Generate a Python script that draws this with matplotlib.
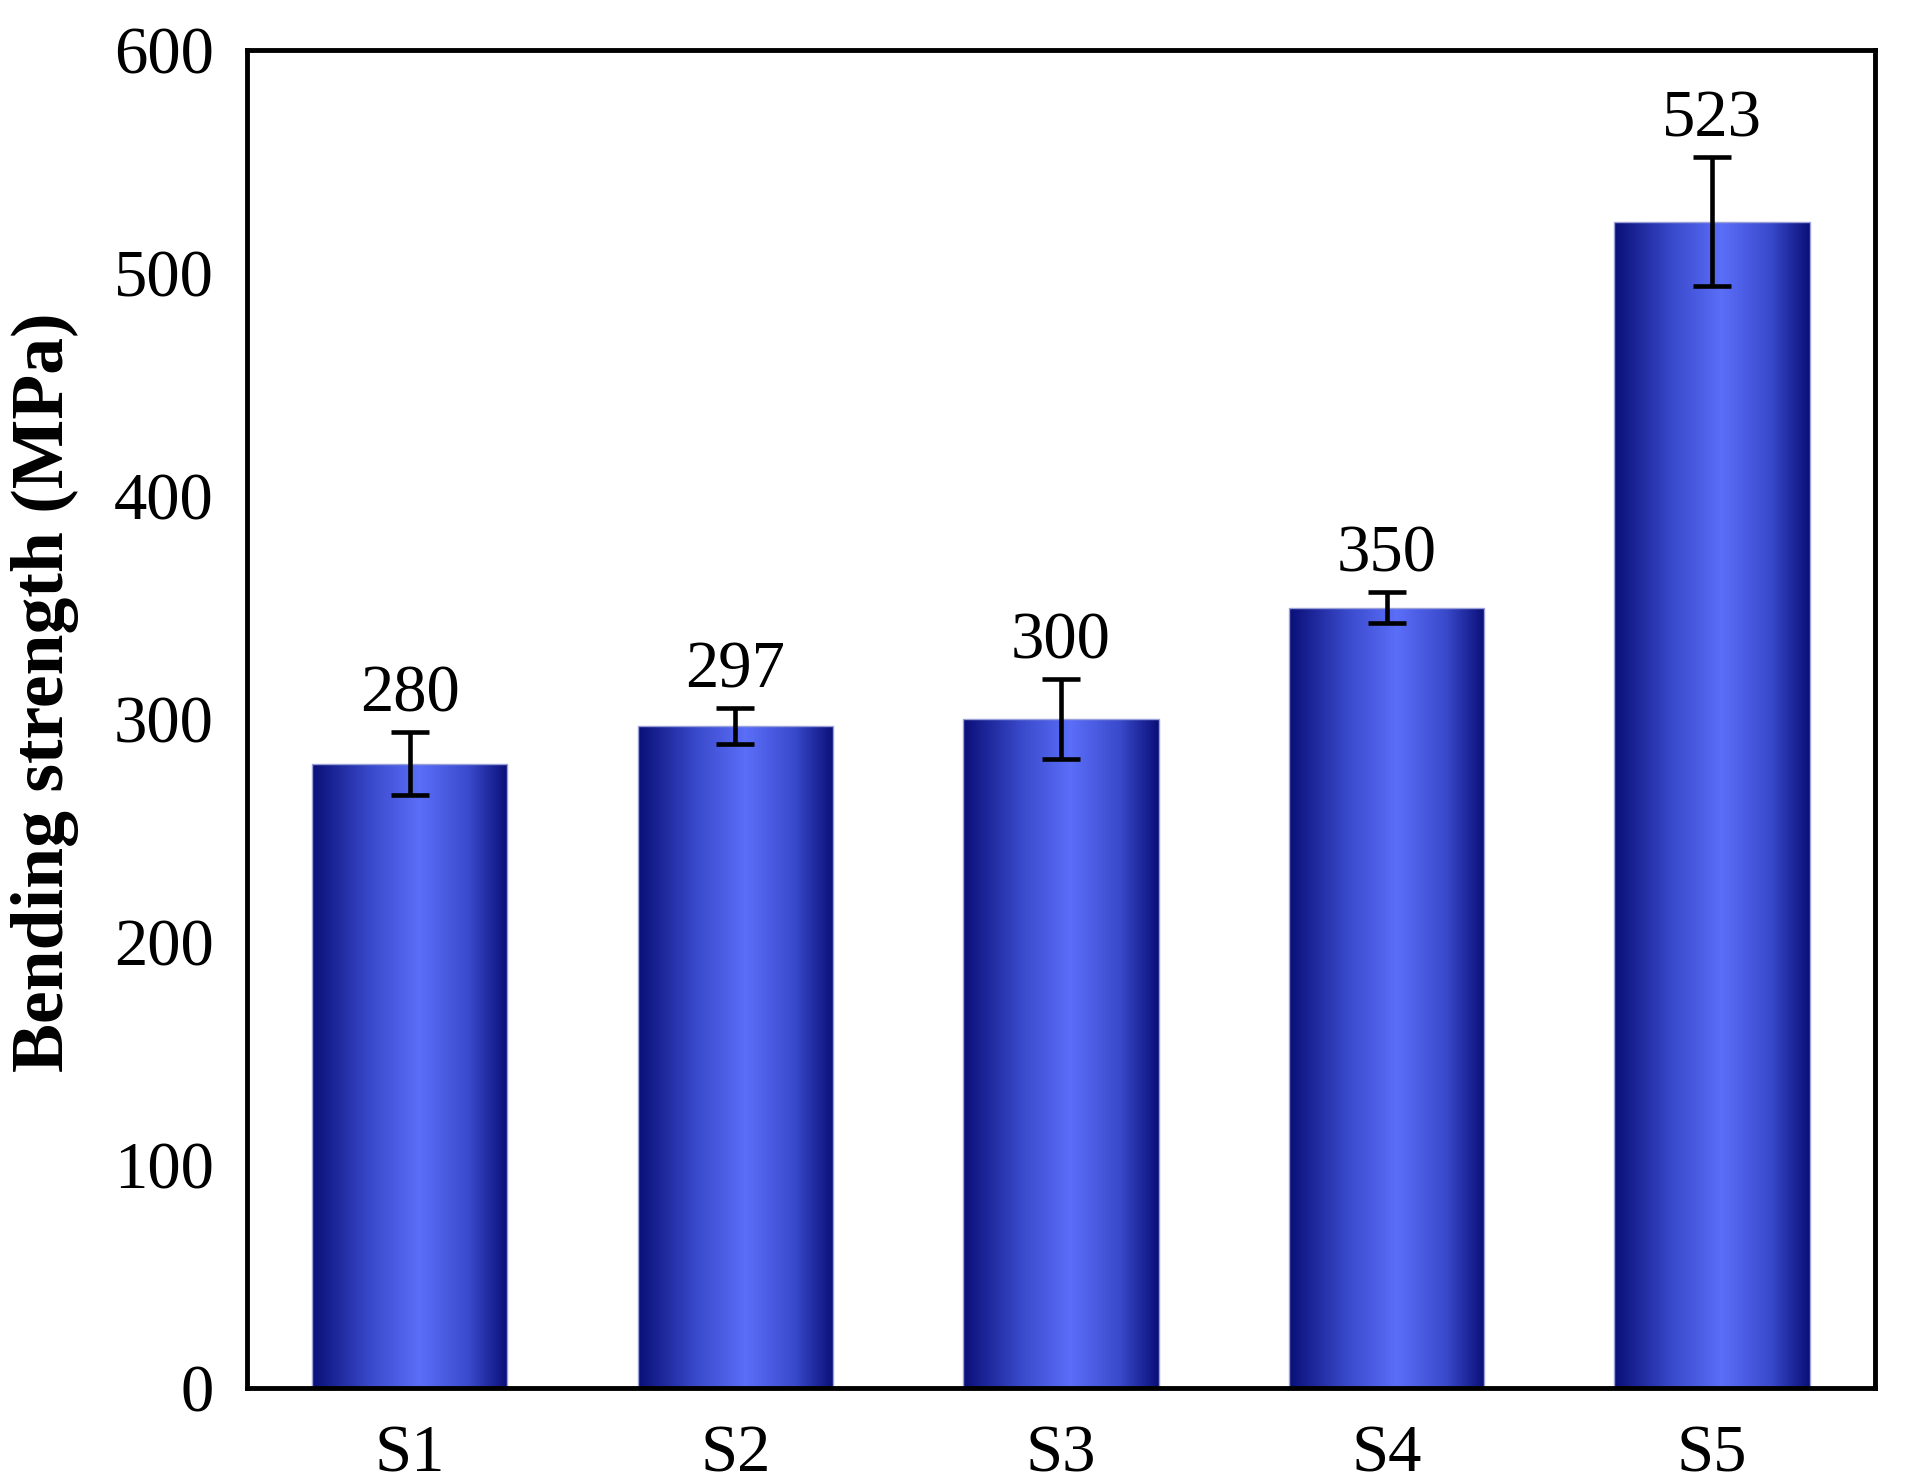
import numpy as np
import matplotlib
matplotlib.use("Agg")
import matplotlib.pyplot as plt
from matplotlib.colors import LinearSegmentedColormap

samples = ["S1", "S2", "S3", "S4", "S5"]
strength = [280, 297, 300, 350, 523]
err = [14, 8, 18, 7, 29]

plt.rcParams["font.family"] = ["Liberation Serif", "DejaVu Serif"]

fig = plt.figure(figsize=(19.06, 14.84), dpi=100)
ax = fig.add_axes([0.1296, 0.0647, 0.8541, 0.9016])

# gradient fill: navy at the edges, light blue in the middle
cmap = LinearSegmentedColormap.from_list(
    "bar", [(0.0, "#0a0f78"), (0.3, "#3a4acc"), (0.55, "#5b6ef8"),
            (0.8, "#3a4acc"), (1.0, "#0a0f78")])
grad = np.linspace(0, 1, 256).reshape(1, -1)

x = np.arange(len(samples))
bars = ax.bar(x, strength, width=0.6, facecolor="none",
              edgecolor="#9aa0d8", linewidth=1, zorder=2)
for b in bars:
    im = ax.imshow(grad, cmap=cmap, aspect="auto", zorder=1,
                   extent=[b.get_x(), b.get_x() + b.get_width(), 0, b.get_height()])
    im.set_clip_path(b)

ax.errorbar(x, strength, yerr=err, fmt="none", ecolor="black",
            elinewidth=3.3, capsize=14, capthick=3.3, zorder=3)

for xi, v, e in zip(x, strength, err):
    ax.text(xi, v + e + 3, f"{v}", ha="center", va="bottom", fontsize=48)

ax.set_xlim(-0.5, 4.5)
ax.set_ylim(0, 600)
ax.set_yticks(range(0, 601, 100))
ax.set_xticks(x)
ax.set_xticklabels(samples)
ax.tick_params(length=0, labelsize=48)
ax.tick_params(axis="x", pad=26)
ax.tick_params(axis="y", pad=24)
for s in ax.spines.values():
    s.set_linewidth(3.5)

ax.set_ylabel("Bending strength (MPa)", fontsize=53, fontweight="bold")
ax.yaxis.set_label_coords(-0.103, 0.52)

fig.savefig("out.png", dpi=100, facecolor="white")
